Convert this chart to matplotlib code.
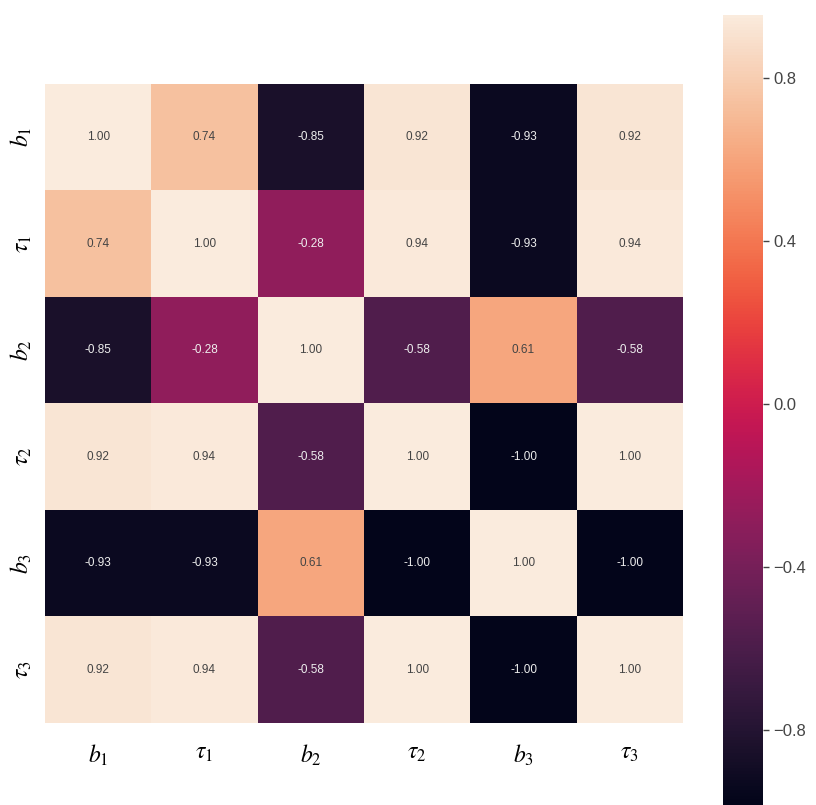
import matplotlib
matplotlib.use("Agg")
import matplotlib.pyplot as plt
import numpy as np
import seaborn as sns

plt.rcParams['font.family'] = ['Liberation Sans', 'DejaVu Sans']
plt.rcParams['mathtext.fontset'] = 'stix'

labels = [r'$b_1$', r'$\tau_1$', r'$b_2$', r'$\tau_2$', r'$b_3$', r'$\tau_3$']

row_b1 = [1.00, 0.74, -0.85, 0.92, -0.93, 0.92]
row_t1 = [0.74, 1.00, -0.28, 0.94, -0.93, 0.94]
row_b2 = [-0.85, -0.28, 1.00, -0.58, 0.61, -0.58]
row_t2 = [0.92, 0.94, -0.58, 1.00, -1.00, 1.00]
row_b3 = [-0.93, -0.93, 0.61, -1.00, 1.00, -1.00]
row_t3 = [0.92, 0.94, -0.58, 1.00, -1.00, 1.00]

corr = np.array([row_b1, row_t1, row_b2, row_t2, row_b3, row_t3])

cbar_ticks = [-0.8, -0.4, 0.0, 0.4, 0.8]

fig = plt.figure(figsize=(8.16, 8.05), dpi=100)
ax = fig.add_axes([0.0551, 0.1019, 0.782, 0.7938])
cax = fig.add_axes([0.886, 0.0, 0.049, 0.9814])

sns.heatmap(corr, annot=True, fmt='.2f', cmap='rocket', vmin=-0.984, vmax=0.955,
            ax=ax, cbar_ax=cax, xticklabels=labels, yticklabels=labels,
            annot_kws={'size': 8.5}, cbar_kws={'ticks': cbar_ticks})

# softer annotation colours like the original
for t in ax.texts:
    if t.get_color() == 'w':
        t.set_color('#eeeeee')
    else:
        t.set_color('#444444')

ax.tick_params(axis='x', length=0, pad=14, labelsize=17, rotation=0)
ax.tick_params(axis='y', length=0, pad=8, labelsize=17)
for t in ax.get_yticklabels():
    t.set_rotation(90)
    t.set_va('center')

cax.tick_params(labelsize=12, colors='#444444', length=4, width=1)
cax.set_yticklabels(['\u22120.8', '\u22120.4', '0.0', '0.4', '0.8'])

plt.savefig('out.png', dpi=100)
